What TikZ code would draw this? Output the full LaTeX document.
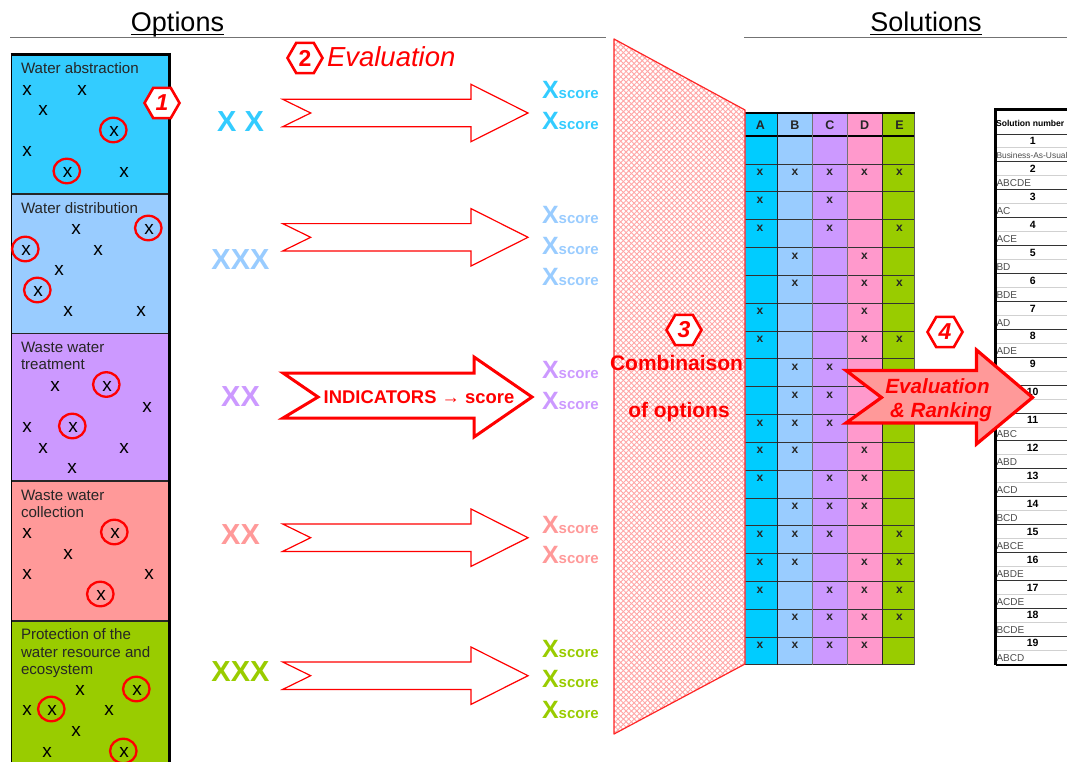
\documentclass[tikz,border=0pt]{standalone}
\usepackage{fontspec}
\setmainfont{Liberation Sans}
\usetikzlibrary{shapes.geometric,patterns.meta}
\definecolor{cA}{HTML}{33CCFF}\definecolor{cB}{HTML}{99CCFF}\definecolor{cC}{HTML}{CC99FF}
\definecolor{cD}{HTML}{FF9999}\definecolor{cE}{HTML}{99CC00}
\definecolor{tA}{HTML}{00CCFF}\definecolor{tD}{HTML}{FF99CC}
\definecolor{arrowpink}{HTML}{FF9999}
\newcommand{\fsz}[1]{\fontsize{#1}{#1}\selectfont}
\tikzset{
  txt/.style={inner sep=0,outer sep=0},
  paneltitle/.style={txt,anchor=north west,align=left,text=black!85,font=\fontsize{15.1}{17.5}\selectfont},
  smallx/.style={txt,font=\fsz{19},anchor=center,yshift=-1.5pt},
  ring/.style={ellipse,draw=red,line width=2.3pt,minimum width=26.5pt,minimum height=24.5pt,inner sep=0},
  hexa/.style={regular polygon,regular polygon sides=6,draw=red,fill=white,line width=2.6pt,minimum size=35pt,inner sep=0,text=red,font=\fsz{23}\bfseries\itshape},
  bigx/.style={txt,font=\fsz{29}\bfseries},
  xscore/.style={txt,anchor=base west,font=\fsz{25}\bfseries},
  thinarrow/.style={draw=red,line width=1.2pt,fill=white,line join=miter},
  redtext/.style={txt,text=red},
  cellx/.style={txt,font=\fsz{12}\bfseries,text=black!85},
  solnum/.style={txt,font=\fsz{10.5}\bfseries},
  sollab/.style={txt,anchor=west,font=\fsz{10},text=black!70}
}
\begin{document}
\begin{tikzpicture}[x=1pt,y=-1pt]
\useasboundingbox (0,0) rectangle (1067,762);
\clip (0,0) rectangle (1067,762);
\fill[white] (0,0) rectangle (1067,762);

% headings
\node[txt,anchor=base,font=\fsz{27}] (opt) at (177.5,32) {Options};
\node[txt,anchor=base,font=\fsz{27}] (sol) at (926,32) {Solutions};
\draw[line width=1pt] ([yshift=-2.5pt]opt.base west) -- ([yshift=-2.5pt]opt.base east);
\draw[line width=1pt] ([yshift=-2.5pt]sol.base west) -- ([yshift=-2.5pt]sol.base east);
\coordinate (l1a) at (10,38); \coordinate (l1b) at (606,38);
\coordinate (l2a) at (744,38); \coordinate (l2b) at (1067,38);
\draw[black!55,line width=1pt] (l1a) -- (l1b);
\draw[black!55,line width=1pt] (l2a) -- (l2b);

% left panels
\fill[cA] (11,55) rectangle (169,194);
\fill[cB] (11,194) rectangle (169,333.5);
\fill[cC] (11,333.5) rectangle (169,481);
\fill[cD] (11,481) rectangle (169,621);
\fill[cE] (11,621) rectangle (169,770);
\foreach \yy in {194,333.5,481,621}
  \draw[black!85,line width=1.1pt] (11,\yy) -- (169,\yy);
\draw[black,line width=1.8pt] (11.5,770) -- (11.5,54.5);
\draw[black,line width=3pt] (10.5,54.5) -- (170.5,54.5);
\draw[black,line width=3.2pt] (169.5,53) -- (169.5,770);

\node[paneltitle] (t1) at (21,62.6) {Water abstraction};
\node[paneltitle] (t2) at (21,202.6) {Water distribution};
\node[paneltitle] (t3) at (21,341.8) {Waste water\\treatment};
\node[paneltitle] (t4) at (21,489.8) {Waste water\\collection};
\node[paneltitle] (t5) at (21,628.8) {Protection of the\\water resource and\\ecosystem};

\foreach \i/\a/\b in {1/27/89,2/82/89,3/43/109,4/27/150,5/124/171,
  6/76/228,7/98/249,8/59/269,9/68/310,10/141/310,
  11/55/384.5,12/147/405.5,13/27/426,14/43/447,15/124/447,16/72/467,
  17/27/532,18/68/553,19/27/573,20/149/573,
  21/80/689,22/27/709,23/109/709,24/76/730,25/47/751}
  \node[smallx] (x\i) at (\a,\b) {x};
\foreach \i/\a/\b in {1/114/130,2/67.5/171,3/149/228,4/26/249,5/38/290,
  6/107/384.5,7/73/426,8/115/532,9/101/594,10/137/689,11/52/709,12/124/751}{
  \node[smallx] (cx\i) at (\a,\b) {x};
  \node[ring] (cr\i) at (\a-0.7,\b) {};
}
\node[hexa] (h1) at (162,103) {1};

% coloured X groups
\node[bigx,text=cA] (gA) at (240.5,122) {X X};
\node[bigx,text=cB] (gB) at (240.5,260) {XXX};
\node[bigx,text=cC] (gC) at (240.5,397) {XX};
\node[bigx,text=cD] (gD) at (240.5,535) {XX};
\node[bigx,text=cE] (gE) at (240.5,672) {XXX};

% thin arrows
\foreach \cy in {113,237.3,537.7,675.7}
  \draw[thinarrow] (282.7,\cy-13.7) -- (471,\cy-13.7) -- (471,\cy-28.7) -- (528,\cy)
     -- (471,\cy+28.7) -- (471,\cy+13.7) -- (282.7,\cy+13.7) -- (310.7,\cy) -- cycle;
% bold arrow
\draw[draw=red,fill=white,line width=3pt,line join=miter]
  (283,373) -- (474,373) -- (474,357) -- (532,397) -- (474,437) -- (474,418) -- (283,418) -- (318,397) -- cycle;
\node[redtext,anchor=base,font=\fsz{18.4}\bfseries] (ind) at (419,403) {INDICATORS → score};

% hexagon 2 + title
\node[hexa,font=\fsz{23}\bfseries] (h2) at (305,58) {2};
\node[redtext,anchor=base west,font=\fsz{27.5}\itshape] (ev) at (327,67) {Evaluation};

% scores
\foreach \n/\c/\b in {1/cA/99,2/cA/130,3/cB/223,4/cB/254,5/cB/285,6/cC/378,7/cC/409,
   8/cD/533,9/cD/563,10/cE/657,11/cE/687,12/cE/718}
  \node[xscore,text=\c] (sc\n) at (542,\b) {X{\fsz{15}score}};

% combination table
\fill[tA] (745,113) rectangle (777.5,665);
\fill[cB] (777.5,113) rectangle (812.3,665);
\fill[cC] (812.3,113) rectangle (847.5,665);
\fill[tD] (847.5,113) rectangle (882,665);
\fill[cE] (882,113) rectangle (914.5,665);
\foreach \i in {0,...,18}
  \draw[black!80,line width=0.9pt] (745,164+27.83*\i) -- (914.5,164+27.83*\i);
\draw[black,line width=1.4pt] (745,136) -- (914.5,136);
\draw[black!85,line width=0.9pt] (777.5,113) -- (777.5,665);
\draw[black!55,line width=0.9pt] (812.3,113) -- (812.3,665);
\draw[black!55,line width=0.9pt] (847.5,113) -- (847.5,665);
\draw[black!85,line width=0.9pt] (882,113) -- (882,665);
\draw[black!65,line width=0.9pt] (914.5,113) -- (914.5,665);
\draw[black,line width=2.6pt] (745,113) -- (915,113);
\foreach \n/\a in {A/760.5,B/795,C/830,D/864.5,E/899.5}
  \node[cellx,font=\fsz{12.5}\bfseries] (hd\n) at (\a,125) {\n};
\foreach \r/\lst in {0/{0,1,2,3,4},1/{0,2},2/{0,2,4},3/{1,3},4/{1,3,4},5/{0,3},6/{0,3,4},
  7/{1,2},8/{1,2},9/{0,1,2},10/{0,1,3},11/{0,2,3},12/{1,2,3},13/{0,1,2,4},14/{0,1,3,4},
  15/{0,2,3,4},16/{1,2,3,4},17/{0,1,2,3}}{
  \foreach \c in \lst {
    \pgfmathsetmacro{\colx}{760+34.85*\c}
    \pgfmathsetmacro{\rowy}{172.5+27.83*\r}
    \node[cellx] (m\r-\c) at (\colx,\rowy) {x};
  }
}

% solution table
\fill[white] (995,109) rectangle (1075,665);
\node[txt,anchor=west,font=\fsz{8.6}\bfseries] (solh) at (996,123) {Solution number};
\foreach \i in {0,...,18}{
  \draw[black!80,line width=0.9pt] (995,134+27.9*\i) -- (1067,134+27.9*\i);
  \draw[black!18,line width=1pt] (995,148+27.9*\i) -- (1067,148+27.9*\i);
}
\foreach \i/\lab in {1/ABCDE,2/AC,3/ACE,4/BD,5/BDE,6/AD,7/ADE,8/BC,10/ABC,11/ABD,12/ACD,13/BCD,14/ABCE,15/ABDE,16/ACDE,17/BCDE,18/ABCD}
  \node[sollab] (sl\i) at (996.5,155.5+27.9*\i) {\lab};
\node[sollab,font=\fsz{8.4}] (sl0) at (996.5,155.5) {Business-As-Usual};
\foreach \i [evaluate=\i as \nn using int(\i+1)] in {0,...,18}
  \node[solnum] (sn\i) at (1032.7,141+27.9*\i) {\nn};
\draw[black,line width=2.6pt] (995.5,665) -- (995.5,109.5) -- (1070,109.5);
\draw[black,line width=2.6pt] (995.5,665) -- (1070,665);

% trapezoid
\fill[white] (614,39) -- (745,110) -- (745,664) -- (614,734) -- cycle;
\fill[pattern={Lines[angle=45,distance=3.8pt,line width=0.9pt]},pattern color=red!35] (614,39) -- (745,110) -- (745,664) -- (614,734) -- cycle;
\fill[pattern={Lines[angle=-45,distance=3.8pt,line width=0.9pt]},pattern color=red!35] (614,39) -- (745,110) -- (745,664) -- (614,734) -- cycle;
\draw[red!85,line width=1.2pt,line join=round] (614,39) -- (745,110) -- (745,664) -- (614,734) -- cycle;
\node[hexa] (h3) at (684,330) {3};
\node[redtext,anchor=base,font=\fsz{21}\bfseries] (co1) at (676.5,370) {Combinaison};
\node[redtext,anchor=base,font=\fsz{21}\bfseries] (co2) at (679,417) {of options};

% arrow 4
\draw[draw=red,fill=arrowpink,line width=3.2pt,line join=miter]
  (846,370.5) -- (976.5,370.5) -- (976.5,350) -- (1032.5,397.5) -- (976.5,444) -- (976.5,423) -- (846,423) -- (881.5,397.5) -- cycle;
\node[redtext,anchor=base,font=\fsz{20.6}\bfseries\itshape] (ev1) at (937.5,393) {Evaluation};
\node[redtext,anchor=base,font=\fsz{20.6}\bfseries\itshape] (ev2) at (941,417) {\& Ranking};
\node[hexa] (h4) at (945,332) {4};
\end{tikzpicture}
\end{document}
